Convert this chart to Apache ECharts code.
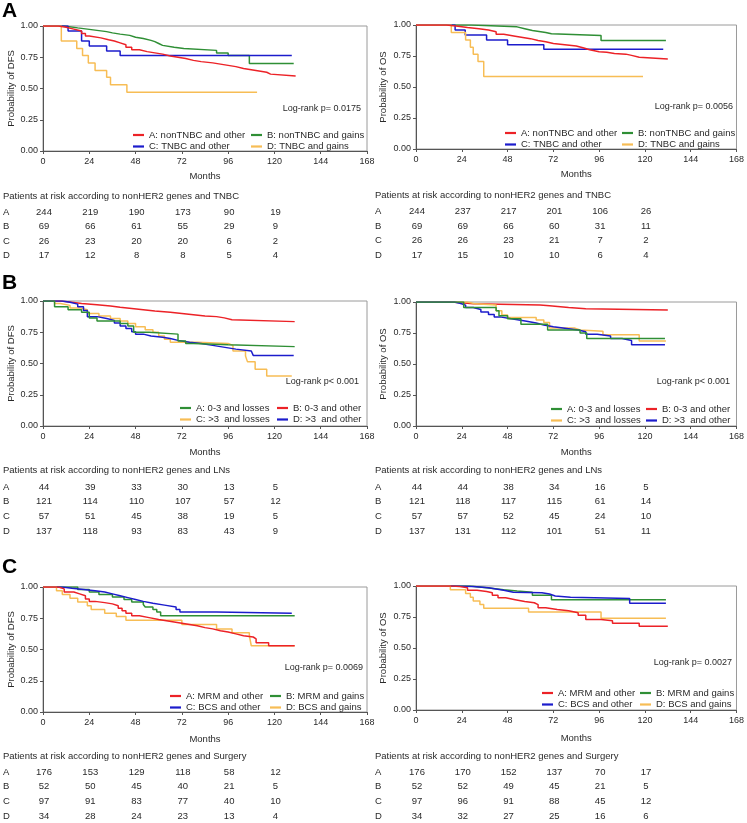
<!DOCTYPE html>
<html><head><meta charset="utf-8">
<script src="https://cdn.jsdelivr.net/npm/echarts@6/dist/echarts.min.js"></script>
<style>html,body{margin:0;padding:0;background:#fff}#c{width:747px;height:823px}</style>
</head><body><div id="c"></div>
<script>
// ---------- Data ----------
const xTickStep = 24;
const riskMonths = [0, 24, 48, 72, 96, 120];

const namesA = ['A: nonTNBC and other', 'B: nonTNBC and gains', 'C: TNBC and other', 'D: TNBC and gains'];
const namesB = ['A: 0-3 and losses', 'B: 0-3 and other', 'C: >3  and losses', 'D: >3  and other'];
const namesC = ['A: MRM and other', 'B: MRM and gains', 'C: BCS and other', 'D: BCS and gains'];

const logrankTexts = ['Log-rank p= 0.0175', 'Log-rank p= 0.0056', 'Log-rank p< 0.001', 'Log-rank p< 0.001', 'Log-rank p= 0.0069', 'Log-rank p= 0.0027'];
const riskTitles = ['Patients at risk according to nonHER2 genes and TNBC', 'Patients at risk according to nonHER2 genes and LNs', 'Patients at risk according to nonHER2 genes and Surgery'];
const rowLabels = ['A', 'B', 'C', 'D'];

// Panel A, DFS
const aDfsA = [[0,1],[8,0.99],[12,0.975],[16,0.96],[20,0.94],[22,0.92],[24,0.905],[30,0.89],[34,0.88],[37,0.865],[40,0.85],[43,0.83],[46,0.81],[50,0.795],[54,0.785],[58,0.775],[62,0.76],[66,0.75],[70,0.74],[74,0.725],[78,0.715],[82,0.705],[88,0.695],[92,0.685],[96,0.675],[100,0.66],[104,0.65],[108,0.64],[112,0.63],[116,0.615],[118,0.60],[131,0.60]];
const aDfsB = [[0,1],[11,0.985],[18,0.975],[23,0.965],[28,0.955],[33,0.945],[36,0.935],[40,0.925],[45,0.91],[48,0.9],[52,0.885],[56,0.875],[58,0.86],[60,0.845],[62,0.83],[68,0.82],[73,0.805],[90,0.785],[96,0.765],[107,0.70],[130,0.70]];
const aDfsC = [[0,1],[13,0.96],[20,0.88],[24,0.84],[33,0.80],[40,0.765],[129,0.765]];
const aDfsD = [[0,1],[9.5,0.88],[17.5,0.82],[20.5,0.765],[23.5,0.705],[27,0.645],[33,0.59],[35,0.53],[43.5,0.47],[111,0.47]];
// Panel A, OS
const aOsA = [[0,1],[16,0.99],[22,0.98],[27,0.97],[33,0.96],[38,0.945],[42,0.925],[46,0.91],[52,0.90],[56,0.89],[60,0.875],[64,0.865],[68,0.85],[72,0.84],[78,0.83],[84,0.815],[88,0.80],[91,0.785],[96,0.78],[100,0.77],[104,0.765],[110,0.755],[113,0.74],[117,0.725],[132,0.725]];
const aOsB = [[0,1],[29,0.985],[53,0.97],[57,0.955],[61,0.94],[68,0.93],[71,0.915],[97,0.875],[131,0.875]];
const aOsC = [[0,1],[20.5,0.96],[25.8,0.92],[37,0.88],[48,0.84],[67,0.805],[129.6,0.805]];
const aOsD = [[0,1],[18.5,0.94],[26,0.88],[28.5,0.82],[30,0.765],[32.5,0.705],[35.5,0.585],[119,0.585]];

// Panel B, DFS
const bDfsA = [[0,1],[6,0.955],[13,0.93],[20,0.91],[24,0.865],[28,0.84],[40,0.82],[44,0.80],[47,0.75],[55,0.735],[70,0.68],[74,0.66],[78,0.65],[96,0.635],[130.5,0.635]];
const bDfsB = [[0,1],[9,0.99],[15,0.98],[20,0.97],[28,0.96],[35,0.95],[40,0.94],[46,0.93],[52,0.92],[58,0.91],[66,0.90],[72,0.89],[78,0.88],[84,0.875],[90,0.865],[94,0.85],[98,0.835],[130.5,0.835]];
const bDfsC = [[0,1],[6,0.98],[9,0.965],[14,0.945],[19,0.93],[23,0.9],[29,0.88],[35,0.86],[40,0.84],[44,0.82],[48,0.795],[53,0.77],[57,0.75],[60,0.72],[63,0.695],[66,0.67],[80,0.66],[96,0.645],[98.5,0.60],[105,0.56],[106,0.515],[110,0.455],[116,0.40],[129,0.40]];
const bDfsD = [[0,1],[10,0.99],[14,0.975],[18,0.955],[21,0.925],[23,0.875],[28,0.86],[33,0.845],[37,0.825],[40,0.80],[43,0.78],[46,0.755],[48,0.735],[52,0.72],[56,0.71],[62,0.70],[66,0.685],[70,0.67],[76,0.66],[82,0.645],[88,0.635],[92,0.625],[96,0.615],[100,0.60],[108,0.59],[109,0.565],[130,0.565]];
// Panel B, OS
const bOsA = [[0,1],[25,0.955],[42,0.93],[43.5,0.89],[48,0.865],[55,0.82],[69,0.775],[86,0.75],[89.5,0.705],[130.5,0.705]];
const bOsB = [[0,1],[18,0.995],[22,0.985],[30,0.975],[65,0.97],[70,0.955],[80,0.945],[89,0.935],[132,0.935]];
const bOsC = [[0,1],[27,0.985],[31,0.975],[42,0.93],[45,0.895],[48,0.875],[63,0.855],[67,0.835],[70,0.79],[83,0.775],[86,0.765],[98,0.735],[117,0.685],[131,0.685]];
const bOsD = [[0,1],[20,0.99],[23,0.975],[26,0.955],[30,0.94],[34,0.92],[38,0.90],[41,0.88],[44,0.865],[50,0.855],[54,0.845],[58,0.83],[63,0.815],[67,0.80],[72,0.785],[80,0.775],[85,0.76],[89,0.74],[95,0.725],[102,0.705],[108,0.69],[113,0.655],[130.5,0.655]];

// Panel C, DFS
const cDfsA = [[0,1],[8,0.985],[11,0.96],[16,0.945],[19,0.93],[22,0.905],[24,0.885],[27,0.875],[32,0.865],[36,0.85],[39,0.83],[41,0.81],[43,0.79],[46,0.77],[50,0.755],[55,0.74],[60,0.73],[64,0.72],[68,0.71],[72,0.70],[76,0.69],[80,0.675],[84,0.665],[88,0.65],[92,0.64],[96,0.625],[100,0.61],[104,0.60],[109,0.585],[110.5,0.555],[117,0.53],[130.5,0.53]];
const cDfsB = [[0,1],[18,0.98],[24,0.96],[29,0.94],[36,0.92],[42,0.90],[46,0.88],[52,0.86],[53,0.84],[57,0.82],[59,0.80],[61,0.77],[130.5,0.77]];
const cDfsC = [[0,1],[10,0.99],[15,0.98],[21,0.97],[27,0.96],[32,0.945],[36,0.93],[40,0.915],[44,0.90],[48,0.885],[52,0.87],[57,0.855],[63,0.84],[69,0.82],[71,0.80],[90,0.79],[129,0.79]];
const cDfsD = [[0,1],[7,0.97],[10,0.94],[14,0.91],[18,0.88],[23,0.85],[25,0.82],[32,0.79],[38,0.765],[43,0.735],[72,0.70],[90,0.665],[98,0.635],[107,0.61],[108,0.53],[130.5,0.53]];
// Panel C, OS
const cOsA = [[0,1],[19,0.995],[23,0.985],[27,0.965],[32,0.955],[37,0.945],[40,0.925],[43,0.905],[47,0.89],[52,0.875],[57,0.865],[62,0.85],[64,0.825],[68,0.81],[74,0.80],[80,0.785],[85,0.765],[89,0.73],[97,0.72],[103,0.70],[117,0.675],[132,0.675]];
const cOsB = [[0,1],[28,0.985],[37,0.97],[46,0.96],[53,0.95],[61,0.925],[71,0.89],[131,0.885]];
const cOsC = [[0,1],[20,0.995],[30,0.985],[38,0.975],[42,0.965],[46,0.95],[51,0.945],[66,0.935],[70,0.92],[73,0.91],[81,0.90],[112,0.86],[131,0.86]];
const cOsD = [[0,1],[18,0.97],[26,0.94],[28.5,0.91],[30,0.88],[33.5,0.85],[35.5,0.82],[59,0.79],[97,0.74],[131,0.74]];

// Patients at risk
const riskA_DFS = [[244,219,190,173,90,19],[69,66,61,55,29,9],[26,23,20,20,6,2],[17,12,8,8,5,4]];
const riskA_OS  = [[244,237,217,201,106,26],[69,69,66,60,31,11],[26,26,23,21,7,2],[17,15,10,10,6,4]];
const riskB_DFS = [[44,39,33,30,13,5],[121,114,110,107,57,12],[57,51,45,38,19,5],[137,118,93,83,43,9]];
const riskB_OS  = [[44,44,38,34,16,5],[121,118,117,115,61,14],[57,57,52,45,24,10],[137,131,112,101,51,11]];
const riskC_DFS = [[176,153,129,118,58,12],[52,50,45,40,21,5],[97,91,83,77,40,10],[34,28,24,23,13,4]];
const riskC_OS  = [[176,170,152,137,70,17],[52,52,49,45,21,5],[97,96,91,88,45,12],[34,32,27,25,16,6]];

// ---------- Styling / layout ----------
const FONT = '"Liberation Sans", Arial, sans-serif';
const RED = '#ec2227', GREEN = '#2f8f35', BLUE = '#1c1ccc', YELLOW = '#f7bd55';
const TXT = '#2a2a2a';

const panels = [
  {grid:{left:43,top:26,width:324,height:125}, yName:'Probability of DFS', curves:[aDfsA,aDfsB,aDfsC,aDfsD], names:namesA, colors:[RED,GREEN,BLUE,YELLOW], lr:[361,109], leg:[[133,129.5],[251,129.5]], risk:riskA_DFS, title:0, tY:[196,212,226.6,241.2,255.8], tX:3, xGap:20},
  {grid:{left:416,top:25,width:321,height:124}, yName:'Probability of OS', curves:[aOsA,aOsB,aOsC,aOsD], names:namesA, colors:[RED,GREEN,BLUE,YELLOW], lr:[733,107], leg:[[505,127.5],[622,127.5]], risk:riskA_OS, title:0, tY:[195.5,211.7,226,240.7,255.2], tX:375, xGap:20},
  {grid:{left:43,top:301,width:324,height:125}, yName:'Probability of DFS', curves:[bDfsA,bDfsB,bDfsC,bDfsD], names:namesB, colors:[GREEN,RED,YELLOW,BLUE], lr:[359,382], leg:[[180,402.5],[277,402.5]], risk:riskB_DFS, title:1, tY:[470.7,487.3,501.7,516.7,531], tX:3, xGap:21},
  {grid:{left:416,top:302,width:321,height:124}, yName:'Probability of OS', curves:[bOsA,bOsB,bOsC,bOsD], names:namesB, colors:[GREEN,RED,YELLOW,BLUE], lr:[730,382], leg:[[551,403.5],[646,403.5]], risk:riskB_OS, title:1, tY:[470.7,487.3,501.7,516.7,531], tX:375, xGap:21},
  {grid:{left:43,top:587,width:324,height:125}, yName:'Probability of DFS', curves:[cDfsA,cDfsB,cDfsC,cDfsD], names:namesC, colors:[RED,GREEN,BLUE,YELLOW], lr:[363,668], leg:[[170,690.5],[270,690.5]], risk:riskC_DFS, title:2, tY:[756.7,772.3,786.7,801.7,816], tX:3, xGap:22},
  {grid:{left:416,top:586,width:321,height:124}, yName:'Probability of OS', curves:[cOsA,cOsB,cOsC,cOsD], names:namesC, colors:[RED,GREEN,BLUE,YELLOW], lr:[732,663], leg:[[542,687.5],[640,687.5]], risk:riskC_OS, title:2, tY:[756.7,772.3,786.7,801.7,816], tX:375, xGap:23}
];

const grids = [], xAxes = [], yAxes = [], series = [], legends = [];
panels.forEach((p, i) => {
  grids.push(Object.assign({show:true, borderColor:'#9a9a9a', borderWidth:1, backgroundColor:'transparent', containLabel:false}, p.grid));
  xAxes.push({
    type:'value', gridIndex:i, min:0, max:168, interval:xTickStep,
    name:'Months', nameLocation:'middle', nameGap:p.xGap,
    nameTextStyle:{fontFamily:FONT, fontSize:9.5, color:TXT},
    axisLine:{show:true, onZero:false, lineStyle:{color:'#555', width:1}},
    axisTick:{show:true, length:3, lineStyle:{color:'#555'}},
    axisLabel:{fontFamily:FONT, fontSize:9, color:TXT, margin:6},
    splitLine:{show:false}
  });
  yAxes.push({
    type:'value', gridIndex:i, min:0, max:1, interval:0.25,
    name:p.yName, nameLocation:'middle', nameGap:i % 2 === 0 ? 27 : 28, nameRotate:90,
    nameTextStyle:{fontFamily:FONT, fontSize:9.5, color:TXT},
    axisLine:{show:true, onZero:false, lineStyle:{color:'#555', width:1}},
    axisTick:{show:true, length:3, lineStyle:{color:'#555'}},
    axisLabel:{fontFamily:FONT, fontSize:9, color:TXT, margin:5, formatter:v => v.toFixed(2)},
    splitLine:{show:false}
  });
  p.curves.forEach((d, k) => {
    series.push({
      type:'line', name:p.names[k], xAxisIndex:i, yAxisIndex:i, data:d, step:'end',
      showSymbol:false, symbol:'none', color:p.colors[k],
      lineStyle:{color:p.colors[k], width:1.5}, itemStyle:{color:p.colors[k]},
      silent:true, animation:false, z: 2 + (k === 0 ? 1 : 0)
    });
  });
  [[0,2],[1,3]].forEach((pair, c) => {
    legends.push({
      orient:'vertical', left:p.leg[c][0], top:p.leg[c][1], padding:0, itemGap:0.5,
      icon:'rect', itemWidth:11, itemHeight:2.2, selectedMode:false,
      data:pair.map(k => p.names[k]),
      textStyle:{fontFamily:FONT, fontSize:9.5, color:TXT, lineHeight:11}
    });
  });
});

const chart = echarts.init(document.getElementById('c'), null, {renderer:'canvas'});
chart.setOption({
  animation:false, backgroundColor:'#fff',
  grid:grids, xAxis:xAxes, yAxis:yAxes, series:series, legend:legends
});

// ---------- Texts: panel letters, log-rank, risk tables ----------
const g = [];
function txt(x, y, text, opt) {
  g.push({type:'text', x:x, y:y, silent:true, style:Object.assign({
    text:text, fill:TXT, fontFamily:FONT, fontSize:9.5, align:'left', verticalAlign:'middle'}, opt || {})});
}
[['A',11],['B',283],['C',567.5]].forEach(([t, y]) => txt(2, y, t, {fontSize:21, fontWeight:'bold', fill:'#000'}));

panels.forEach((p, i) => {
  txt(p.lr[0], p.lr[1], logrankTexts[i], {align:'right', fontSize:9});
  txt(p.tX, p.tY[0], riskTitles[p.title]);
  p.risk.forEach((row, r) => {
    txt(p.tX, p.tY[r + 1], rowLabels[r]);
    row.forEach((v, c) => {
      const x = chart.convertToPixel({xAxisIndex:i}, riskMonths[c]);
      txt(x + 1, p.tY[r + 1], String(v), {align:'center'});
    });
  });
});
chart.setOption({graphic:g});
</script>
</body></html>
